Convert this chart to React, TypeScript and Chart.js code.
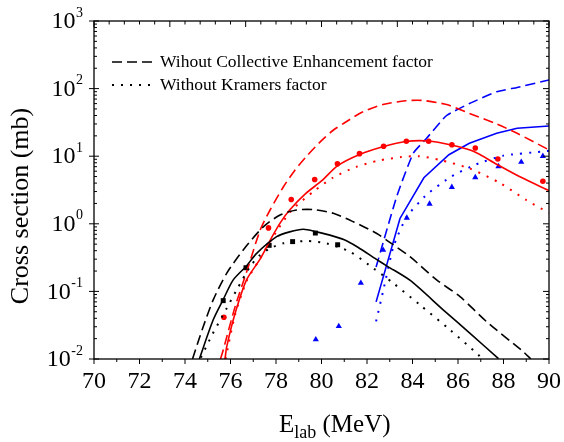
import { useEffect, useRef } from "react";
import { Chart, registerables } from "chart.js";
Chart.register(...registerables);

const W = 564;
const H = 442;
const FONT = '"Liberation Serif", "Times New Roman", serif';

// ---- data ----
const blackSolidX = [74.63, 75.24, 75.68, 76.12, 76.7, 77.15, 78.03, 78.6, 79.2, 79.79, 80.37, 81.0, 81.6, 82.4, 82.9, 83.9, 85.36, 86.53, 87.78];
const blackSolidY = [0.01, 0.038, 0.076, 0.148, 0.238, 0.366, 0.645, 0.76, 0.83, 0.76, 0.68, 0.58, 0.45, 0.3, 0.235, 0.145, 0.053, 0.024, 0.0101];
const blackDashedX = [74.33, 74.8, 75.24, 75.83, 76.56, 77.44, 78.18, 78.9, 79.64, 80.52, 81.4, 82.43, 82.87, 83.89, 85.06, 86.09, 87.26, 88.87, 89.2];
const blackDashedY = [0.01, 0.03, 0.075, 0.185, 0.41, 0.9, 1.35, 1.6, 1.62, 1.43, 1.07, 0.72, 0.57, 0.326, 0.148, 0.0835, 0.0356, 0.0128, 0.01];
const blackDottedX = [74.7, 75.2, 75.83, 76.27, 76.86, 77.3, 77.74, 78.32, 79.35, 80.22, 81.25, 82.28, 83.16, 84.33, 85.65, 86.9, 87.0];
const blackDottedY = [0.0105, 0.023, 0.056, 0.105, 0.232, 0.345, 0.434, 0.514, 0.557, 0.514, 0.386, 0.22, 0.132, 0.063, 0.027, 0.0115, 0.0105];

const redSolidX = [75.76, 75.83, 76.2, 76.7, 77.3, 77.8, 78.2, 78.6, 79.3, 80.0, 80.7, 81.7, 82.7, 83.7, 84.7, 85.7, 86.7, 87.7, 88.7, 90];
const redSolidY = [0.01, 0.015, 0.047, 0.147, 0.3, 0.62, 1.05, 1.6, 2.8, 4.3, 7.2, 10.7, 13.8, 16.5, 16.8, 14.6, 11.7, 7.6, 5.0, 3.1];
const redDashedX = [75.56, 75.68, 76.2, 76.78, 77.3, 77.74, 78.32, 78.8, 79.3, 80.0, 80.5, 81.0, 81.8, 82.7, 83.7, 84.4, 85.5, 86.5, 87.7, 88.6, 90];
const redDashedY = [0.01, 0.0136, 0.059, 0.23, 0.8, 1.6, 3.5, 6.0, 9.6, 17, 24, 31, 45, 58, 66, 67, 58, 43, 30, 21.8, 12.4];
const redDottedX = [75.78, 76.2, 76.7, 77.2, 78.0, 78.7, 79.7, 80.5, 81.5, 82.5, 83.5, 84.3, 85.2, 86.5, 87.85, 89.0, 90];
const redDottedY = [0.01, 0.045, 0.14, 0.27, 0.75, 1.6, 3.1, 4.8, 6.9, 8.6, 9.7, 10.0, 8.8, 6.6, 4.0, 2.25, 1.45];

const blueSolidX = [82.4, 83.45, 84.5, 85.6, 86.5, 87.7, 88.6, 90];
const blueSolidY = [0.07, 1.2, 4.8, 10.5, 15.5, 21.8, 25.9, 28];
const blueDashedX = [82.4, 83.3, 84.03, 84.62, 85.5, 86.5, 87.7, 88.6, 90];
const blueDashedY = [0.23, 2.5, 11, 18.4, 40, 60, 90, 104, 134];
const blueDottedX = [82.4, 82.72, 83.16, 83.74, 84.62, 85.7, 86.8, 88.0, 89.7, 90];
const blueDottedY = [0.036, 0.105, 0.46, 1.27, 2.7, 5.0, 7.6, 10.2, 11.7, 12];

const redPtsX = [75.71, 77.67, 78.67, 79.7, 80.7, 81.67, 82.73, 83.73, 84.71, 85.73, 86.76, 87.75, 89.73];
const redPtsY = [0.0415, 0.87, 2.29, 4.53, 7.7, 10.9, 14, 16.6, 16.6, 14.8, 13.2, 9.1, 4.25];
const blackPtsX = [75.68, 76.68, 77.7, 78.73, 79.73, 80.71];
const blackPtsY = [0.073, 0.224, 0.48, 0.545, 0.73, 0.49];
const bluePtsX = [79.75, 80.76, 81.73, 82.71, 83.75, 84.75, 85.73, 86.76, 87.78, 88.78, 89.73];
const bluePtsY = [0.0194, 0.0305, 0.133, 0.41, 1.22, 1.97, 3.48, 4.85, 7.06, 8.2, 10.0];

const xTickValues = [70, 72, 74, 76, 78, 80, 82, 84, 86, 88, 90];
const yTickExponents = [-2, -1, 0, 1, 2, 3];
const legendLabels = ["Wihout Collective Enhancement factor", "Without Kramers factor"];
const yTitle = "Cross section (mb)";
const xTitleMain = "E";
const xTitleSub = "lab";
const xTitleUnit = " (MeV)";

const pts = (xs: number[], ys: number[]) => xs.map((x, i) => ({ x, y: ys[i] }));
const sup = (e: number) => (e < 0 ? "-" + Math.abs(e) : String(e));

const DASH = [10, 5];
const DOT = [2, 7];

function line(xs: number[], ys: number[], color: string, dash: number[], tension = 0.25) {
  return {
    type: "line" as const,
    data: pts(xs, ys),
    borderColor: color,
    backgroundColor: color,
    borderWidth: dash === DOT ? 2 : 1.6,
    borderDash: dash,
    pointRadius: 0,
    tension,
    fill: false,
  };
}

function scatter(xs: number[], ys: number[], color: string, style: string, r: number) {
  return {
    type: "scatter" as const,
    data: pts(xs, ys),
    borderColor: color,
    backgroundColor: color,
    pointStyle: style,
    pointRadius: r,
    pointBorderWidth: 0,
    showLine: false,
  };
}

const framePlugin = {
  id: "frame",
  afterDraw(chart: any) {
    const { ctx, chartArea, scales } = chart;
    const { left, right, top, bottom } = chartArea;
    const x = scales.x;
    const y = scales.y;
    ctx.save();
    ctx.strokeStyle = "#000";
    ctx.fillStyle = "#000";
    ctx.lineWidth = 1.3;
    ctx.setLineDash([]);
    ctx.strokeRect(left, top, right - left, bottom - top);
    ctx.lineWidth = 1;
    ctx.beginPath();
    // bottom ticks (outward)
    for (let v = 70; v <= 90; v++) {
      const px = x.getPixelForValue(v);
      const len = v % 2 === 0 ? 5 : 3;
      ctx.moveTo(px, bottom);
      ctx.lineTo(px, bottom + len);
    }
    // top ticks (inward)
    for (let i = 0; i <= 30; i++) {
      const px = left + ((right - left) * i) / 30;
      const len = i % 5 === 0 ? 6 : 3.5;
      ctx.moveTo(px, top);
      ctx.lineTo(px, top + len);
    }
    // left/right log ticks
    for (let k = -2; k <= 3; k++) {
      const py = y.getPixelForValue(Math.pow(10, k));
      ctx.moveTo(left - 5, py);
      ctx.lineTo(left + 5, py);
      ctx.moveTo(right - 6, py);
      ctx.lineTo(right, py);
      if (k < 3) {
        for (let m = 2; m <= 9; m++) {
          const pm = y.getPixelForValue(m * Math.pow(10, k));
          ctx.moveTo(left, pm);
          ctx.lineTo(left + 3, pm);
          ctx.moveTo(right - 3, pm);
          ctx.lineTo(right, pm);
        }
      }
    }
    ctx.stroke();

    // x tick labels
    ctx.font = `24px ${FONT}`;
    ctx.textAlign = "center";
    ctx.textBaseline = "middle";
    xTickValues.forEach((v) => {
      ctx.fillText(String(v), x.getPixelForValue(v), 382);
    });

    // y tick labels with superscripts
    yTickExponents.forEach((e) => {
      const py = y.getPixelForValue(Math.pow(10, e));
      ctx.font = `14px ${FONT}`;
      const es = sup(e);
      const ew = ctx.measureText(es).width;
      ctx.textAlign = "right";
      ctx.textBaseline = "middle";
      const rightEdge = 83;
      ctx.fillText(es, rightEdge, py - 8);
      ctx.font = `24px ${FONT}`;
      ctx.fillText("10", rightEdge - ew - 0.5, py + 1);
    });

    // y title
    ctx.save();
    ctx.translate(28, 206);
    ctx.rotate(-Math.PI / 2);
    ctx.font = `26px ${FONT}`;
    ctx.textAlign = "center";
    ctx.textBaseline = "alphabetic";
    ctx.fillText(yTitle, 0, 0);
    ctx.restore();

    // x title with subscript
    ctx.textAlign = "left";
    ctx.textBaseline = "alphabetic";
    let cx = 279;
    ctx.font = `25px ${FONT}`;
    ctx.fillText(xTitleMain, cx, 432);
    cx += ctx.measureText(xTitleMain).width;
    ctx.font = `18px ${FONT}`;
    ctx.fillText(xTitleSub, cx, 438);
    cx += ctx.measureText(xTitleSub).width;
    ctx.font = `25px ${FONT}`;
    ctx.fillText(xTitleUnit, cx, 432);

    // legend
    ctx.lineWidth = 1.6;
    ctx.setLineDash(DASH);
    ctx.beginPath();
    ctx.moveTo(112, 62);
    ctx.lineTo(153, 62);
    ctx.stroke();
    ctx.lineWidth = 2;
    ctx.setLineDash(DOT);
    ctx.beginPath();
    ctx.moveTo(112, 85);
    ctx.lineTo(152, 85);
    ctx.stroke();
    ctx.setLineDash([]);
    ctx.font = `17.5px ${FONT}`;
    ctx.textAlign = "left";
    ctx.textBaseline = "middle";
    ctx.fillText(legendLabels[0], 160, 62);
    ctx.fillText(legendLabels[1], 160, 85);
    ctx.restore();
  },
};

export default function App() {
  const ref = useRef<HTMLCanvasElement | null>(null);
  useEffect(() => {
    if (!ref.current) return;
    const chart = new Chart(ref.current, {
      type: "line",
      data: {
        datasets: [
          line(blackSolidX, blackSolidY, "#000000", []),
          line(blackDashedX, blackDashedY, "#000000", DASH),
          line(blackDottedX, blackDottedY, "#000000", DOT),
          line(redSolidX, redSolidY, "#ff0000", []),
          line(redDashedX, redDashedY, "#ff0000", DASH),
          line(redDottedX, redDottedY, "#ff0000", DOT),
          line(blueSolidX, blueSolidY, "#0000ff", [], 0),
          line(blueDashedX, blueDashedY, "#0000ff", DASH, 0.15),
          line(blueDottedX, blueDottedY, "#0000ff", DOT, 0.15),
          scatter(blackPtsX, blackPtsY, "#000000", "rect", 3.5),
          scatter(redPtsX, redPtsY, "#ff0000", "circle", 2.8),
          scatter(bluePtsX, bluePtsY, "#0000ff", "triangle", 3.6),
        ] as any,
      },
      options: {
        animation: false,
        responsive: false,
        maintainAspectRatio: false,
        layout: { padding: { top: 21, right: 15, left: 0, bottom: 0 } },
        plugins: { legend: { display: false }, tooltip: { enabled: false } },
        scales: {
          x: {
            type: "linear",
            min: 70,
            max: 90,
            ticks: { display: false },
            grid: { display: false },
            border: { display: false },
            afterFit: (s: any) => {
              s.height = 83;
            },
          },
          y: {
            type: "logarithmic",
            min: 0.01,
            max: 1000,
            ticks: { display: false },
            grid: { display: false },
            border: { display: false },
            afterFit: (s: any) => {
              s.width = 94;
            },
          },
        },
      },
      plugins: [framePlugin],
    });
    return () => chart.destroy();
  }, []);
  return (
    <div style={{ position: "absolute", left: 0, top: 0, width: W, height: H, background: "#fff" }}>
      <canvas ref={ref} width={W} height={H} style={{ width: W, height: H }} />
    </div>
  );
}
